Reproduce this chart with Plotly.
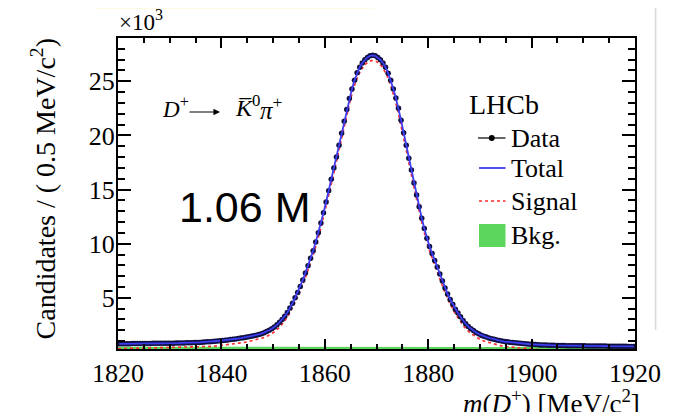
import numpy as np
import plotly.graph_objects as go

# ---------------- data ----------------
bin_lo = 1820.0
bin_width = 0.5
n_bins = 200
mass = bin_lo + bin_width * (np.arange(n_bins) + 0.5)   # bin centres [MeV/c^2]

# candidates per 0.5 MeV/c^2, in units of 10^3
data_counts = [
    0.75, 0.75, 0.76, 0.76, 0.76, 0.77, 0.77, 0.77, 0.77, 0.78,
    0.78, 0.78, 0.78, 0.79, 0.79, 0.79, 0.79, 0.80, 0.80, 0.80,
    0.81, 0.81, 0.82, 0.82, 0.83, 0.83, 0.84, 0.85, 0.85, 0.86,
    0.87, 0.88, 0.90, 0.91, 0.93, 0.95, 0.97, 0.99, 1.01, 1.03,
    1.06, 1.08, 1.11, 1.14, 1.17, 1.20, 1.24, 1.28, 1.32, 1.36,
    1.40, 1.45, 1.50, 1.55, 1.61, 1.69, 1.78, 1.88, 2.00, 2.15,
    2.30, 2.50, 2.75, 3.00, 3.30, 3.65, 4.05, 4.50, 5.00, 5.50,
    6.05, 6.65, 7.30, 7.95, 8.65, 9.35, 10.15, 11.00, 11.90, 12.85,
    13.85, 14.90, 15.95, 17.00, 18.00, 19.10, 20.20, 21.30, 22.40, 23.40,
    24.30, 25.10, 25.80, 26.30, 26.70, 27.00, 27.20, 27.35, 27.40,
    27.35, 27.20, 27.00, 26.70, 26.30, 25.75, 25.10, 24.30, 23.45, 22.50,
    21.40, 20.25, 19.10, 17.90, 16.80, 15.60, 14.50, 13.40, 12.35, 11.40,
    10.50, 9.75, 9.10, 8.45, 7.85, 7.20, 6.55, 5.90, 5.35, 4.85,
    4.40, 3.95, 3.60, 3.25, 2.90, 2.60, 2.35, 2.15, 1.97, 1.80,
    1.67, 1.55, 1.45, 1.37, 1.29, 1.22, 1.16, 1.10, 1.05, 1.00,
    0.96, 0.93, 0.90, 0.87, 0.84, 0.82, 0.79, 0.77, 0.75, 0.73,
    0.71, 0.70, 0.68, 0.67, 0.65, 0.64, 0.63, 0.62, 0.62, 0.61,
    0.60, 0.60, 0.59, 0.59, 0.58, 0.58, 0.57, 0.57, 0.57, 0.56,
    0.56, 0.56, 0.55, 0.55, 0.55, 0.55, 0.54, 0.54, 0.54, 0.54,
    0.53, 0.53, 0.53, 0.53, 0.52, 0.52, 0.52, 0.52, 0.51, 0.51, 0.51,
]
# total fit follows the data points
total_fit = data_counts

# signal component, sampled every 1 MeV/c^2
signal_mass = np.arange(1820, 1921, 1)
signal_fit = [
    0.30, 0.31, 0.31, 0.32, 0.32, 0.33, 0.33, 0.34, 0.34, 0.35,
    0.36, 0.37, 0.38, 0.39, 0.40, 0.42, 0.44, 0.47, 0.51, 0.55,
    0.60, 0.65, 0.71, 0.77, 0.85, 0.93, 1.03, 1.13, 1.29, 1.49,
    1.77, 2.17, 2.70, 3.40, 4.30, 5.32, 6.52, 7.85, 9.30, 11.00,
    12.90, 14.95, 17.05, 19.20, 21.40, 23.40, 25.00, 26.05, 26.65, 26.93,
    26.83, 26.40, 25.58, 24.25, 22.53, 20.38, 18.05, 15.75, 13.50, 11.43,
    9.68, 8.33, 7.08, 5.78, 4.65, 3.73, 2.98, 2.30, 1.80, 1.44,
    1.16, 0.96, 0.81, 0.68, 0.58, 0.50, 0.44, 0.38, 0.33, 0.29,
    0.26, 0.23, 0.20, 0.18, 0.17, 0.15, 0.14, 0.13, 0.12, 0.115,
    0.11, 0.10, 0.10, 0.09, 0.09, 0.08, 0.08, 0.07, 0.07, 0.06, 0.06,
]

# combinatorial background (flat)
bkg_mass = [1820, 1920]
bkg_fit = [0.48, 0.45]

x_ticks = [1820, 1840, 1860, 1880, 1900, 1920]
y_ticks = [5, 10, 15, 20, 25]

legend_labels = ["Data", "Total", "Signal", "Bkg."]

# ---------------- colours / fonts ----------------
SERIF = "Liberation Serif"
C_DATA = "#101040"
C_TOTAL = "#3c3cf0"
C_SIG = "#ff2a2a"
C_BKG = "#5cd65c"

# page-pixel -> paper helpers (plot area spans x 118..645, y 38..349 on the page)
X0, X1, Y0, Y1 = 118.0, 645.0, 38.0, 349.0
def px(x):
    return (x - X0) / (X1 - X0)
def py(y):
    return (Y1 - y) / (Y1 - Y0)

fig = go.Figure()

fig.add_trace(go.Scatter(
    x=bkg_mass, y=bkg_fit, mode="lines", fill="tozeroy",
    fillcolor=C_BKG, line=dict(color=C_BKG, width=0), name="Bkg."))

fig.add_trace(go.Scatter(
    x=signal_mass, y=signal_fit, mode="lines",
    line=dict(color=C_SIG, width=1.6, dash="dot"), name="Signal"))

fig.add_trace(go.Scatter(
    x=mass, y=data_counts, mode="markers",
    marker=dict(color=C_DATA, size=5.5), name="Data"))

fig.add_trace(go.Scatter(
    x=mass, y=total_fit, mode="lines",
    line=dict(color=C_TOTAL, width=1.8), name="Total"))

axis_common = dict(
    showline=True, linecolor="black", linewidth=2, mirror="ticks",
    ticks="inside", tickcolor="black", tickwidth=1.5,
    showgrid=False, zeroline=False, ticklabeloverflow="allow",
    tickfont=dict(family=SERIF, size=26, color="black"),
)

fig.update_xaxes(
    range=[1820, 1920], tickvals=x_ticks, ticklen=10,
    minor=dict(dtick=5, tick0=1820, ticklen=5, ticks="inside",
               tickcolor="black", tickwidth=1.5, showgrid=False),
    **axis_common)
fig.update_yaxes(
    range=[0.27, 29.0], tickvals=y_ticks, ticklen=13,
    minor=dict(dtick=1, tick0=0, ticklen=7, ticks="inside",
               tickcolor="black", tickwidth=1.5, showgrid=False),
    ticklabelstandoff=-4,
    **axis_common)

# ---------------- legend (drawn as shapes + text) ----------------
leg_y = [138, 168, 201, 235]
shapes = [
    # faint page artefacts of the reference (cropped slide)
    dict(type="rect", xref="paper", yref="paper", x0=px(95), x1=px(380),
         y0=py(9), y1=py(-2), fillcolor="#fffbe2", line=dict(width=0), layer="below"),
    dict(type="line", xref="paper", yref="paper", x0=px(666), x1=px(666),
         y0=py(0), y1=py(330), line=dict(color="#d8d8d8", width=1.5), layer="below"),
    # Data: line with dot
    dict(type="line", xref="paper", yref="paper", x0=px(485), x1=px(513),
         y0=py(leg_y[0]), y1=py(leg_y[0]), line=dict(color="black", width=1.2)),
    dict(type="circle", xref="paper", yref="paper", x0=px(496), x1=px(502),
         y0=py(leg_y[0] + 3), y1=py(leg_y[0] - 3), fillcolor="black",
         line=dict(color="black", width=0)),
    # Total
    dict(type="line", xref="paper", yref="paper", x0=px(486), x1=px(513),
         y0=py(leg_y[1]), y1=py(leg_y[1]), line=dict(color=C_TOTAL, width=1.8)),
    # Signal
    dict(type="line", xref="paper", yref="paper", x0=px(486), x1=px(513),
         y0=py(leg_y[2]), y1=py(leg_y[2]), line=dict(color=C_SIG, width=1.6, dash="dot")),
    # Bkg
    dict(type="rect", xref="paper", yref="paper", x0=px(486), x1=px(513),
         y0=py(247), y1=py(224), fillcolor=C_BKG, line=dict(width=0)),
]

annotations = [
    dict(text="LHCb", xref="paper", yref="paper", x=px(474), y=py(105),
         xanchor="left", yanchor="middle", showarrow=False,
         font=dict(family=SERIF, size=28, color="black")),
]
for lab, yy in zip(legend_labels, leg_y):
    annotations.append(dict(text=lab, xref="paper", yref="paper", x=px(517), y=py(yy),
                            xanchor="left", yanchor="middle", showarrow=False,
                            font=dict(family=SERIF, size=26, color="black")))

annotations += [
    dict(text="×10<sup>3</sup>", xref="paper", yref="paper",
         x=px(117), y=py(37), xanchor="left", yanchor="bottom",
         showarrow=False, font=dict(family=SERIF, size=23, color="black")),
    # decay label, pieced together to follow the reference spacing
    dict(text="<i>D</i><sup>+</sup>", xref="paper", yref="paper", x=px(161), y=py(108),
         xanchor="left", yanchor="middle", showarrow=False,
         font=dict(family=SERIF, size=23, color="black")),
    dict(text="", xref="paper", yref="paper", x=px(222), y=py(112),
         ax=-32, ay=0, showarrow=True, arrowhead=2, arrowsize=1.1,
         arrowwidth=1.2, arrowcolor="black", standoff=0, startstandoff=0),
    dict(text="<i>K̅</i><sup>0</sup>", xref="paper", yref="paper", x=px(235), y=py(106),
         xanchor="left", yanchor="middle", showarrow=False,
         font=dict(family=SERIF, size=24, color="black")),
    dict(text="<i>π</i><sup>+</sup>", xref="paper", yref="paper", x=px(261), y=py(108),
         xanchor="left", yanchor="middle", showarrow=False,
         font=dict(family=SERIF, size=25, color="black")),
    dict(text="1.06 M", xref="paper", yref="paper", x=px(247), y=py(207),
         xanchor="center", yanchor="middle", showarrow=False,
         font=dict(family="Liberation Sans", size=43, color="black")),
    dict(text="Candidates / ( 0.5 MeV/c<sup>2</sup>)", xref="paper", yref="paper",
         x=px(42), y=py(189), textangle=-90,
         xanchor="center", yanchor="middle", showarrow=False,
         font=dict(family=SERIF, size=28, color="black")),
    dict(text="<i>m</i>(<i>D</i><sup>+</sup>) [MeV/c<sup>2</sup>]",
         xref="paper", yref="paper", x=px(652), y=py(402),
         xanchor="right", yanchor="middle", showarrow=False,
         font=dict(family=SERIF, size=27, color="black")),
]

# the page body adds an 8 px offset; size/margins compensate so the plot area
# lands at x 118..645, y 38..349 of the 673x412 window
fig.update_layout(
    width=665, height=404,
    margin=dict(l=110, r=28, t=30, b=63),
    paper_bgcolor="white", plot_bgcolor="white",
    font=dict(family=SERIF, color="black"),
    showlegend=False,
    shapes=shapes,
    annotations=annotations,
)

fig.write_html("out.html")
